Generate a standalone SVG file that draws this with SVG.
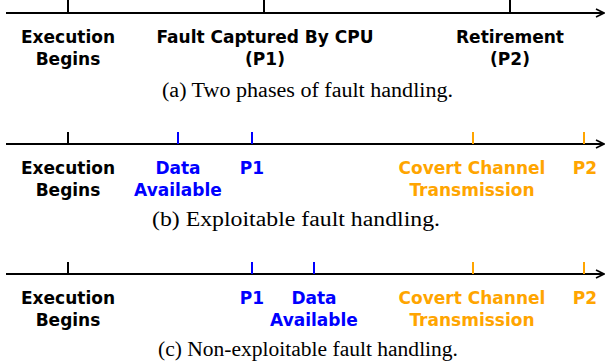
<svg xmlns="http://www.w3.org/2000/svg" width="606" height="362" viewBox="0 0 606 362">
<style>
.ax{stroke:#000;stroke-width:2;fill:none}
.tk{stroke-width:2;fill:none}
.k{stroke:#000}.b{stroke:#0000ff}.o{stroke:#ffa500}
.lb{font-family:"DejaVu Sans",Verdana,sans-serif;font-weight:bold;font-size:17px;text-anchor:middle}
.tb{fill:#000}.tbl{fill:#0000ff}.tor{fill:#ffa500}
.cap{font-family:"Liberation Serif","Times New Roman",serif;font-size:20px;text-anchor:middle;fill:#000}
</style>
<defs>
<marker id="ah" viewBox="0 0 10 10" refX="9" refY="5" markerWidth="5" markerHeight="5" markerUnits="strokeWidth" orient="auto">
<path d="M1,1 L9,5 L1,9" fill="none" stroke="#000" stroke-width="1.6"/>
</marker>
</defs>
<g id="connectors">
<line class="ax" x1="6" y1="13" x2="604" y2="13" marker-end="url(#ah)"/>
<line class="ax" x1="6" y1="144" x2="604" y2="144" marker-end="url(#ah)"/>
<line class="ax" x1="6" y1="274" x2="604" y2="274" marker-end="url(#ah)"/>
</g>
<g id="timeline-a">
<line class="tk k" x1="68" y1="0" x2="68" y2="13"/>
<line class="tk k" x1="264" y1="0" x2="264" y2="13"/>
<line class="tk k" x1="510" y1="0" x2="510" y2="13"/>
<g id="a-exec"><text class="lb tb" x="68" y="43">Execution</text><text class="lb tb" x="68" y="65">Begins</text></g>
<g id="a-p1"><text class="lb tb" x="265" y="43">Fault Captured By CPU</text><text class="lb tb" x="265" y="65">(P1)</text></g>
<g id="a-p2"><text class="lb tb" x="510" y="43">Retirement</text><text class="lb tb" x="510" y="65">(P2)</text></g>
<text class="cap" x="307.5" y="97" textLength="291" lengthAdjust="spacingAndGlyphs">(a) Two phases of fault handling.</text>
</g>
<g id="timeline-b">
<line class="tk k" x1="68" y1="132" x2="68" y2="144"/>
<line class="tk b" x1="178" y1="132" x2="178" y2="144"/>
<line class="tk b" x1="252" y1="132" x2="252" y2="144"/>
<line class="tk o" x1="473" y1="132" x2="473" y2="144"/>
<line class="tk o" x1="584" y1="132" x2="584" y2="144"/>
<g id="b-exec"><text class="lb tb" x="68" y="174">Execution</text><text class="lb tb" x="68" y="196">Begins</text></g>
<g id="b-data"><text class="lb tbl" x="178" y="174">Data</text><text class="lb tbl" x="178" y="196">Available</text></g>
<g id="b-p1"><text class="lb tbl" x="252" y="174">P1</text></g>
<g id="b-covert"><text class="lb tor" x="472" y="174">Covert Channel</text><text class="lb tor" x="472" y="196">Transmission</text></g>
<g id="b-p2"><text class="lb tor" x="585" y="174">P2</text></g>
<text class="cap" x="296" y="226" textLength="288" lengthAdjust="spacingAndGlyphs">(b) Exploitable fault handling.</text>
</g>
<g id="timeline-c">
<line class="tk k" x1="68" y1="262" x2="68" y2="274"/>
<line class="tk b" x1="252" y1="262" x2="252" y2="274"/>
<line class="tk b" x1="314" y1="262" x2="314" y2="274"/>
<line class="tk o" x1="473" y1="262" x2="473" y2="274"/>
<line class="tk o" x1="584" y1="262" x2="584" y2="274"/>
<g id="c-exec"><text class="lb tb" x="68" y="304">Execution</text><text class="lb tb" x="68" y="326">Begins</text></g>
<g id="c-p1"><text class="lb tbl" x="252" y="304">P1</text></g>
<g id="c-data"><text class="lb tbl" x="314" y="304">Data</text><text class="lb tbl" x="314" y="326">Available</text></g>
<g id="c-covert"><text class="lb tor" x="472" y="304">Covert Channel</text><text class="lb tor" x="472" y="326">Transmission</text></g>
<g id="c-p2"><text class="lb tor" x="585" y="304">P2</text></g>
<text class="cap" x="308" y="356" textLength="300" lengthAdjust="spacingAndGlyphs">(c) Non-exploitable fault handling.</text>
</g>
</svg>
